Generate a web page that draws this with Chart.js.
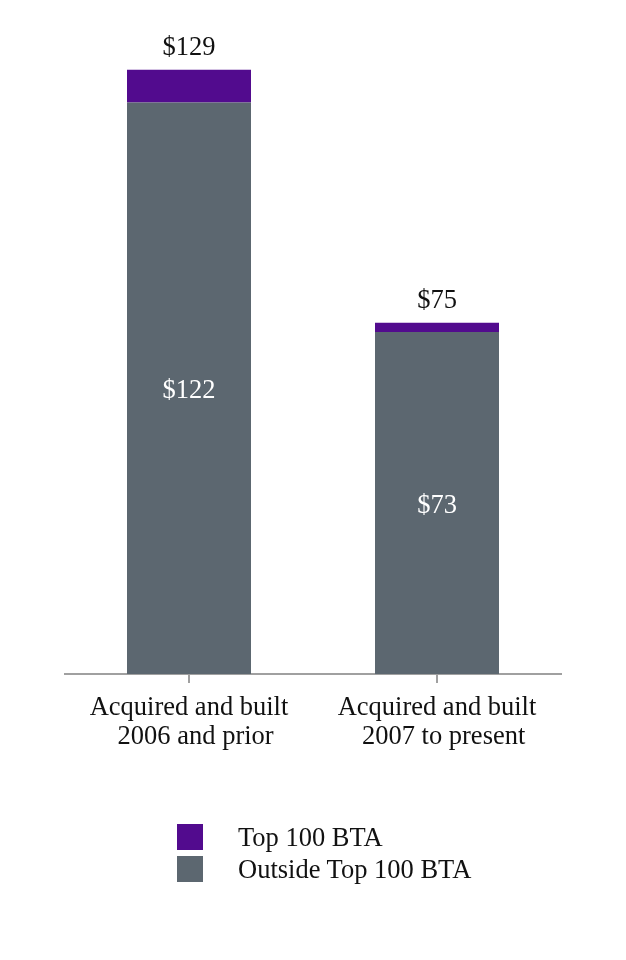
<!DOCTYPE html>
<html>
<head>
<meta charset="utf-8">
<script src="https://cdn.jsdelivr.net/npm/chart.js@4/dist/chart.umd.min.js"></script>
<style>
body { margin: 0; background: #fff; }
#wrap { position: relative; width: 626px; height: 960px; }
#legend { position: absolute; left: 177px; top: 824px; font-family: "Liberation Serif", serif; font-size: 26.5px; color: #111; }
.item { height: 32px; position: relative; }
.box { position: absolute; left: 0; top: 0; width: 26px; height: 26px; }
.txt { position: absolute; left: 61px; top: 0; line-height: 26px; white-space: nowrap; }
</style>
</head>
<body>
<div id="wrap">
<canvas id="myChart" width="626" height="960"></canvas>
<div id="legend"></div>
</div>
<script>
var labels = [["Acquired and built", "  2006 and prior"], ["Acquired and built", "  2007 to present"]];
var outsideTop100 = [122, 73];
var top100 = [7, 2];
var totals = [129, 75];

var FONT = "'Liberation Serif', 'Times New Roman', serif";

var barLabels = {
    id: "barLabels",
    afterDatasetsDraw: function (chart) {
        var ctx = chart.ctx;
        var inner = chart.getDatasetMeta(0);
        var outer = chart.getDatasetMeta(1);
        ctx.save();
        ctx.font = "26.5px " + FONT;
        ctx.textAlign = "center";
        ctx.textBaseline = "middle";
        inner.data.forEach(function (bar, i) {
            ctx.fillStyle = "#ffffff";
            ctx.fillText("$" + outsideTop100[i], bar.x, (bar.y + bar.base) / 2 + 3);
        });
        outer.data.forEach(function (bar, i) {
            ctx.fillStyle = "#111111";
            ctx.fillText("$" + totals[i], bar.x, bar.y - 22);
        });
        ctx.restore();
    }
};

var ctx = document.getElementById("myChart").getContext("2d");
var chart = new Chart(ctx, {
    type: "bar",
    data: {
        labels: labels,
        datasets: [
            {
                label: "Outside Top 100 BTA",
                data: outsideTop100,
                backgroundColor: "#5c6770"
            },
            {
                label: "Top 100 BTA",
                data: top100,
                backgroundColor: "#520b8e"
            }
        ]
    },
    options: {
        responsive: false,
        animation: false,
        layout: { padding: { left: 65, right: 65, top: 65, bottom: 206 } },
        plugins: {
            legend: { display: false },
            tooltip: { enabled: false }
        },
        datasets: { bar: { barPercentage: 0.5, categoryPercentage: 1.0 } },
        scales: {
            x: {
                stacked: true,
                offset: true,
                border: { display: true, color: "#a0a0a0", width: 2 },
                grid: { offset: false, drawOnChartArea: false, drawTicks: true, tickLength: 9, color: "#a0a0a0", lineWidth: 2 },
                ticks: { color: "#111", padding: 10, maxRotation: 0, font: { family: FONT, size: 26.5, lineHeight: 1.1 } },
                afterFit: function (s) { s.height = 80; }
            },
            y: {
                stacked: true,
                display: false,
                min: 0,
                max: 130
            }
        }
    },
    plugins: [barLabels]
});

// legend built from the chart's own datasets, top series first
var legend = document.getElementById("legend");
chart.data.datasets.slice().reverse().forEach(function (ds) {
    var item = document.createElement("div");
    item.className = "item";
    item.innerHTML = '<span class="box" style="background:' + ds.backgroundColor + '"></span><span class="txt">' + ds.label + '</span>';
    legend.appendChild(item);
});
</script>
</body>
</html>
